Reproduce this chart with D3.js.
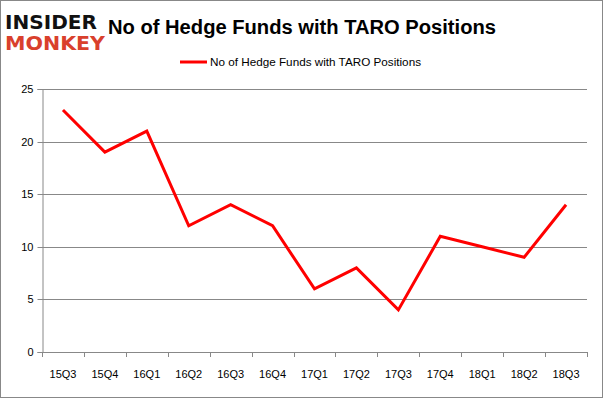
<!DOCTYPE html>
<html>
<head>
<meta charset="utf-8">
<script src="https://cdnjs.cloudflare.com/ajax/libs/d3/7.8.5/d3.min.js"></script>
<style>
  body { margin: 0; background: #fff; }
  svg { display: block; font-family: "Liberation Sans", "DejaVu Sans", sans-serif; }
</style>
</head>
<body>
<svg id="chart"></svg>
<script>
const quarters = ["15Q3", "15Q4", "16Q1", "16Q2", "16Q3", "16Q4", "17Q1", "17Q2", "17Q3", "17Q4", "18Q1", "18Q2", "18Q3"];
const funds = [23, 19, 21, 12, 14, 12, 6, 8, 4, 11, 10, 9, 14];
const yTicks = [0, 5, 10, 15, 20, 25];
const seriesName = "No of Hedge Funds with TARO Positions";

const width = 603;
const height = 398;
const margin = { top: 89, right: 16, bottom: 46, left: 42 };

const svg = d3.select("#chart").attr("width", width).attr("height", height);

// outer frame
svg.append("rect")
  .attr("x", 0.5).attr("y", 0.5)
  .attr("width", width - 1).attr("height", height - 1)
  .attr("fill", "#fff").attr("stroke", "#888");

const x = d3.scaleBand().domain(quarters).range([margin.left, width - margin.right]);
const y = d3.scaleLinear().domain([0, 25]).range([height - margin.bottom, margin.top]);

// gridlines
svg.append("g")
  .selectAll("line")
  .data(yTicks)
  .join("line")
  .attr("x1", margin.left).attr("x2", width - margin.right)
  .attr("y1", (d) => Math.round(y(d)) + 0.5).attr("y2", (d) => Math.round(y(d)) + 0.5)
  .attr("stroke", "#888");

// y axis
const yAxis = svg.append("g")
  .attr("transform", `translate(${margin.left + 0.5},0)`)
  .call(d3.axisLeft(y).tickValues(yTicks).tickSize(5).tickPadding(4));
yAxis.select(".domain").attr("stroke", "#888");
yAxis.selectAll(".tick line").attr("stroke", "#888");
yAxis.selectAll(".tick")
  .attr("transform", (d) => `translate(0,${Math.round(y(d)) + 0.5})`);
yAxis.selectAll("text").attr("font-size", 11).attr("fill", "#000")
  .attr("font-family", "Liberation Sans, sans-serif");

// x axis
const xAxis = svg.append("g")
  .attr("transform", `translate(0,${Math.round(y(0)) + 0.5})`)
  .call(d3.axisBottom(x).tickSize(0).tickPadding(18));
xAxis.select(".domain").remove();
xAxis.selectAll("text").attr("font-size", 11).attr("fill", "#000")
  .attr("font-family", "Liberation Sans, sans-serif");
svg.append("g")
  .selectAll("line")
  .data(quarters.map((q) => x(q)).concat([x.range()[1]]))
  .join("line")
  .attr("x1", (d) => Math.round(d) + 0.5).attr("x2", (d) => Math.round(d) + 0.5)
  .attr("y1", Math.round(y(0))).attr("y2", Math.round(y(0)) + 5)
  .attr("stroke", "#888");

// line
const line = d3.line()
  .x((d, i) => x(quarters[i]) + x.bandwidth() / 2)
  .y((d) => y(d));
svg.append("path")
  .datum(funds)
  .attr("d", line)
  .attr("fill", "none")
  .attr("stroke", "#ff0000")
  .attr("stroke-width", 3)
  .attr("stroke-linejoin", "miter");

// title
svg.append("text")
  .attr("x", 302).attr("y", 34)
  .attr("text-anchor", "middle")
  .attr("font-size", 20).attr("font-weight", "bold")
  .attr("textLength", 388).attr("lengthAdjust", "spacingAndGlyphs")
  .attr("fill", "#000")
  .text("No of Hedge Funds with TARO Positions");

// legend
svg.append("line")
  .attr("x1", 180).attr("x2", 207)
  .attr("y1", 62).attr("y2", 62)
  .attr("stroke", "#ff0000").attr("stroke-width", 3);
svg.append("text")
  .attr("x", 210).attr("y", 66)
  .attr("font-size", 11.5).attr("fill", "#000")
  .attr("textLength", 211).attr("lengthAdjust", "spacingAndGlyphs")
  .text(seriesName);

// logo
svg.append("text")
  .attr("x", 5).attr("y", 29)
  .attr("font-size", 19).attr("font-weight", "bold")
  .attr("font-family", "DejaVu Sans, sans-serif")
  .attr("textLength", 92).attr("lengthAdjust", "spacingAndGlyphs")
  .attr("fill", "#111")
  .text("INSIDER");
svg.append("text")
  .attr("x", 5).attr("y", 50)
  .attr("font-size", 19).attr("font-weight", "bold")
  .attr("font-family", "DejaVu Sans, sans-serif")
  .attr("textLength", 100).attr("lengthAdjust", "spacingAndGlyphs")
  .attr("fill", "#d9402c")
  .text("MONKEY");
</script>
</body>
</html>
